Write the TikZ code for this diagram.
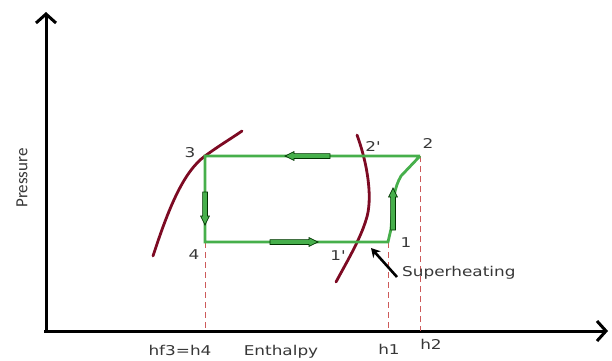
\documentclass[tikz,border=0pt]{standalone}
\usepackage{fontspec}
\setmainfont{DejaVu Sans}
\newfontfamily\lblfont[FakeStretch=1.25]{DejaVu Sans}
\newfontfamily\presfont{Carlito}
\usetikzlibrary{arrows.meta}
\definecolor{cycgreen}{RGB}{70,175,75}
\definecolor{satred}{RGB}{125,10,35}
\definecolor{guidered}{RGB}{205,90,90}
\definecolor{txtgray}{RGB}{55,55,55}
\tikzset{
  axisline/.style={line width=3pt,-{Straight Barb[length=9pt,width=20pt,line width=3pt]}},
  cycpath/.style={line width=2.8pt,cycgreen},
  satline/.style={line width=2.8pt,satred,line cap=round},
  guide/.style={line width=0.9pt,guidered,dash pattern=on 6pt off 4pt},
  lbl/.style={font=\lblfont\fontsize{13.5}{15}\selectfont,text=txtgray,inner sep=0pt},
  harrow/.style={fill=cycgreen,draw=black!80!green,line width=0.7pt},
}
\newcommand{\hollowarrow}[3]{%
  \draw[harrow,shift={#1},rotate=#2] (0,-2.4) -- (#3-9,-2.4) -- (#3-9,-4.4) -- (#3,0) -- (#3-9,4.4) -- (#3-9,2.4) -- (0,2.4) -- cycle;}
\begin{document}
\begin{tikzpicture}[x=1pt,y=-1pt]
\useasboundingbox (0,0) rectangle (612,360);
% axes
\coordinate (O) at (46,331);
\coordinate (Ytop) at (46,12);
\coordinate (Xend) at (608,331);
\draw[axisline] (O) -- (Ytop);
\draw[axisline] ([xshift=-2pt]O) -- (Xend);
\node[font=\presfont\fontsize{17}{19}\selectfont,text=txtgray,rotate=90] (pres) at (22,178) {Pressure};
% cycle points
\coordinate (p3) at (205,156);
\coordinate (p4) at (205,242);
\coordinate (p1) at (388,242);
\coordinate (p2) at (420,156);
% guides
\draw[guide] (p4) -- (205,331);
\draw[guide] (p1) -- (388,331);
\draw[guide] (p2) -- (420,331);
% saturation curves
\draw[satline] (153,256) .. controls (168,210) and (183,172) .. (205,156) .. controls (220,145) and (232,138) .. (242,131);
\draw[satline] (357,135) .. controls (368,165) and (373,200) .. (366,220) .. controls (360,240) and (345,265) .. (336,282);
% cycle
\draw[cycpath,line join=miter] (p2) -- (p3) -- (p4) -- (p1) -- (391,229) .. controls (393,200) and (394,188) .. (401,176) -- (p2);
% direction arrows
\hollowarrow{(205,192)}{-90}{33}
\hollowarrow{(330,156)}{180}{45}
\hollowarrow{(270,242)}{0}{48}
\hollowarrow{(393,230)}{90}{42}
% labels
\node[lbl] (l3) at (190,153) {3};
\node[lbl] (l4) at (194,255) {4};
\node[lbl] (l2p) at (373,146) {2'};
\node[lbl] (l2) at (428,143) {2};
\node[lbl] (l1) at (406,243) {1};
\node[lbl] (l1p) at (338,256) {1'};
\node[lbl,anchor=west] (sh) at (402,273) {Superheating};
\draw[line width=2.6pt,-{Stealth[length=9pt,width=10pt]}] (397,277) -- (371,248);
\node[lbl] (hf) at (180,350) {hf3=h4};
\node[lbl] (en) at (281,352) {Enthalpy};
\node[lbl] (h1) at (389,349) {h1};
\node[lbl] (h2) at (431,344) {h2};
\end{tikzpicture}
\end{document}
